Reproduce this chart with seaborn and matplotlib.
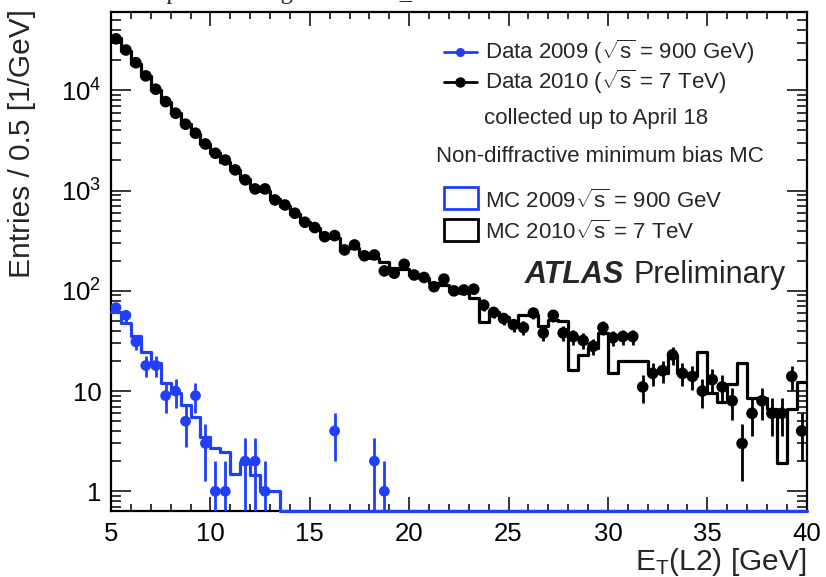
import numpy as np
import pandas as pd
import matplotlib
matplotlib.use("Agg")
import matplotlib.pyplot as plt
import seaborn as sns
from matplotlib.lines import Line2D
from matplotlib.patches import Rectangle
from matplotlib.ticker import FixedLocator, FixedFormatter, MultipleLocator, NullFormatter

# ---------------- data ----------------
BIN_LO, BIN_HI, BIN_W = 5.0, 40.0, 0.5

data2010 = [32700, 25300, 18900, 13960, 10280, 7730, 5920, 4600, 3740, 2920,
            2360, 2020, 1610, 1280, 1040, 1040, 807, 719, 595, 484,
            428, 347, 356, 256, 287, 224, 228, 158, 150, 184,
            144, 136, 110, 131, 100, 102, 104, 72, 61, 53,
            46, 43, 60, 38, 57, 38, 35, 32, 28, 43,
            34, 35, 35, 11, 15, 16, 23, 15, 14, 10,
            13, 11, 8, 3, 6, 8, 6, 6, 14, 4]

mc2010 = [33000, 25000, 18500, 13800, 10200, 7700, 5900, 4600, 3700, 2900,
          2350, 1950, 1600, 1300, 1060, 1000, 820, 700, 590, 490,
          420, 350, 340, 270, 270, 230, 215, 196, 170, 165,
          145, 135, 120, 115, 100, 95, 84, 49, 62, 55,
          48, 58, 58, 45, 51, 50, 16.2, 22.9, 26.7, 37.8,
          15.1, 20.1, 20.1, 20.1, 15, 15, 22.9, 15, 14, 24.7,
          9.5, 7.8, 11.8, 19.2, 8.5, 8.5, 6.7, 1.9, 6.7, 12.4]

mc2009 = [62, 47.5, 35.7, 24.7, 19, 12.1, 9.5, 7.3, 5.55, 3.46,
          2.69, 2.47, 1.49, 1.97, 1.45, 1.01, 1.01] + [0.0] * 53

data2009_x = [5.25, 5.75, 6.25, 6.75, 7.25, 7.75, 8.25, 8.75, 9.25, 9.75,
              10.25, 10.75, 11.75, 12.25, 12.75, 16.25, 18.25, 18.75]
data2009_y = [68, 57, 31, 18, 18, 9, 10, 5, 9, 3,
              1, 1, 2, 2, 1, 4, 2, 1]

x_ticks = [5, 10, 15, 20, 25, 30, 35, 40]
y_ticks = [1, 10, 100, 1000, 10000]
y_tick_labels = ["1", "10", "$10^{2}$", "$10^{3}$", "$10^{4}$"]

# ---------------- style ----------------
sns.set_theme(style="ticks")
plt.rcParams["font.family"] = ["Liberation Sans", "DejaVu Sans"]
plt.rcParams["mathtext.fontset"] = "custom"
plt.rcParams["mathtext.rm"] = "Liberation Sans"
plt.rcParams["mathtext.it"] = "Liberation Sans:italic"
plt.rcParams["mathtext.bf"] = "Liberation Sans:bold"
plt.rcParams["mathtext.default"] = "regular"

BLUE = "#1f3ffa"
W, H = 826, 577
Y_MIN, Y_MAX = 0.636, 61000


def fpx(x, y):
    return x / W, 1 - y / H


fig = plt.figure(figsize=(W / 100, H / 100), dpi=100)
ax = fig.add_axes([111 / W, 1 - 511 / H, (806.7 - 111) / W, (511 - 11.7) / H])

edges = np.arange(BIN_LO, BIN_HI + BIN_W / 2, BIN_W)
centers = edges[:-1] + BIN_W / 2


def step_frame(values, floor=None):
    v = np.asarray(values, dtype=float)
    if floor is not None:
        v = np.maximum(v, floor)
    return pd.DataFrame({"edge": edges, "value": np.append(v, v[-1])})


ax.set_yscale("log")
sns.lineplot(data=step_frame(mc2009, Y_MIN), x="edge", y="value",
             drawstyle="steps-post", estimator=None, sort=False, color=BLUE,
             linewidth=2.3, ax=ax, zorder=3, clip_on=False)
sns.lineplot(data=step_frame(mc2010), x="edge", y="value",
             drawstyle="steps-post", estimator=None, sort=False, color="black",
             linewidth=2.3, ax=ax, zorder=3)

# data 2010
d10 = np.array(data2010, dtype=float)
ax.errorbar(centers, d10, yerr=np.sqrt(d10), fmt="none", ecolor="black",
            elinewidth=2.0, capsize=0, zorder=4)
sns.scatterplot(x=centers, y=d10, color="black", s=70, edgecolor="none",
                ax=ax, zorder=5)

# data 2009
d09 = np.array(data2009_y, dtype=float)
ax.errorbar(data2009_x, d09, yerr=np.sqrt(d09), fmt="none", ecolor=BLUE,
            elinewidth=2.0, capsize=0, zorder=4)
sns.scatterplot(x=data2009_x, y=d09, color=BLUE, s=60, edgecolor="none",
                ax=ax, zorder=5)

ax.set_xlim(BIN_LO, BIN_HI)
ax.set_ylim(Y_MIN, Y_MAX)

# axes / ticks
ax.xaxis.set_major_locator(FixedLocator(x_ticks))
ax.xaxis.set_minor_locator(MultipleLocator(1))
ax.yaxis.set_major_locator(FixedLocator(y_ticks))
ax.yaxis.set_major_formatter(FixedFormatter(y_tick_labels))
minor_y = [m * 10 ** e for e in range(-1, 5) for m in range(2, 10)]
ax.yaxis.set_minor_locator(FixedLocator(minor_y))
ax.yaxis.set_minor_formatter(NullFormatter())

ax.tick_params(axis="both", which="both", direction="in", top=True, right=True,
               colors="black", width=1.1)
ax.tick_params(axis="x", which="major", length=10, labelsize=18.5, pad=8)
ax.tick_params(axis="x", which="minor", length=5)
ax.tick_params(axis="y", which="major", length=14.5, labelsize=18.5, pad=7)
ax.tick_params(axis="y", which="minor", length=7.2)
for s in ax.spines.values():
    s.set_linewidth(1.6)
    s.set_color("black")
    s.set_zorder(2)

ax.set_xlabel("")
ax.set_ylabel("")
fig.text(*fpx(806, 570), "E$_{\\mathrm{T}}$(L2) [GeV]", ha="right",
         va="baseline", fontsize=21.5)
fig.text(*fpx(22, 9), "Entries / 0.5 [1/GeV]", rotation=90, ha="center",
         va="top", fontsize=21.5)

# title, mostly cut off by the top edge as in the reference
fig.text(146 / W, 1 + 1.3 / H, "Input to L2 algo mode L2_EM", fontsize=17.7,
         family=["Liberation Serif", "DejaVu Serif"], va="baseline")

# legend (ROOT-style, drawn by hand)
LFS = 16
fig.add_artist(Line2D([444 / W, 477 / W], [1 - 52 / H] * 2, color=BLUE, lw=2.0,
                      transform=fig.transFigure))
fig.add_artist(Line2D([460 / W], [1 - 52 / H], color=BLUE, marker="o", ms=5.5,
                      lw=0, transform=fig.transFigure))
fig.add_artist(Line2D([444 / W, 477 / W], [1 - 82 / H] * 2, color="black", lw=2.0,
                      transform=fig.transFigure))
fig.add_artist(Line2D([460 / W], [1 - 82 / H], color="black", marker="o", ms=6.5,
                      lw=0, transform=fig.transFigure))
fig.text(*fpx(485, 59), "Data 2009 ($\\sqrt{\\mathrm{s}}$ = 900 GeV)",
         fontsize=LFS, va="baseline")
fig.text(*fpx(485, 89), "Data 2010 ($\\sqrt{\\mathrm{s}}$ = 7 TeV)",
         fontsize=LFS, va="baseline")
fig.text(*fpx(484, 124), "collected up to April 18", fontsize=LFS, va="baseline")
fig.text(*fpx(436, 161.5), "Non-diffractive minimum bias MC", fontsize=LFS,
         va="baseline")
fig.add_artist(Rectangle(fpx(444, 208.5), 34 / W, 21.5 / H, fill=False,
                         edgecolor=BLUE, lw=2.0, transform=fig.transFigure))
fig.add_artist(Rectangle(fpx(444, 240.5), 34 / W, 21.5 / H, fill=False,
                         edgecolor="black", lw=2.0, transform=fig.transFigure))
fig.text(*fpx(485, 208), "MC 2009$\\sqrt{\\mathrm{s}}$ = 900 GeV", fontsize=LFS,
         va="baseline")
fig.text(*fpx(485, 239), "MC 2010$\\sqrt{\\mathrm{s}}$ = 7 TeV", fontsize=LFS,
         va="baseline")

fig.text(*fpx(525, 283), "ATLAS", fontsize=22, fontweight="bold",
         fontstyle="italic", va="baseline")
fig.text(*fpx(634, 283), "Preliminary", fontsize=22, va="baseline")

fig.savefig("out.png", dpi=100, facecolor="white")
